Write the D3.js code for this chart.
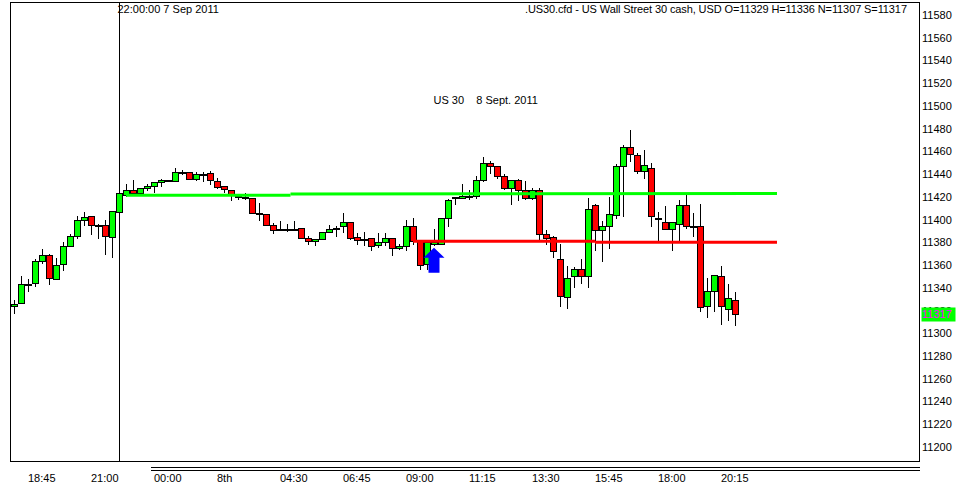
<!DOCTYPE html>
<html>
<head>
<meta charset="utf-8">
<script src="https://cdn.jsdelivr.net/npm/d3@7/dist/d3.min.js"></script>
<style>
  html, body { margin: 0; padding: 0; background: #fff; }
  svg { display: block; }
  text { font-family: "Liberation Sans", Arial, sans-serif; font-size: 11px; fill: #000; }
</style>
</head>
<body>
<svg id="chart" width="961" height="487"></svg>
<script>
// ---- Data (15-minute bars, US30, 7-8 Sep 2011) ----
const opens  = [11324,11327,11343,11344,11364,11369,11348,11361,11377,11386,11400,11403,11395,11395,11385,11407,11422,11426,11423,11428,
                11430,11433,11435,11434,11442,11442,11436,11439,11441,11434,11430,11426,11421,11420,11419,11406,11405,11395,11391,11392,
                11392,11393,11384,11381,11383,11389,11393,11394,11398,11385,11382,11384,11378,11380,11384,11375,11377,11394,11381,11361,
                11379,11379,11401,11419,11419,11421,11421,11435,11450,11447,11438,11428,11435,11426,11419,11426,11387,11385,11365,11332,
                11350,11357,11350,11413,11391,11394,11404,11447,11464,11457,11443,11445,11401,11398,11392,11396,11413,11394,11394,11324,
                11337,11350,11321,11329];
const highs  = [11329,11350,11348,11365,11374,11370,11366,11380,11387,11403,11407,11403,11396,11400,11408,11424,11431,11435,11428,11431,
                11433,11436,11435,11445,11444,11442,11442,11442,11443,11437,11430,11426,11422,11423,11419,11415,11405,11397,11399,11396,
                11399,11393,11386,11383,11389,11395,11394,11406,11398,11388,11389,11384,11388,11388,11384,11379,11400,11401,11381,11382,
                11392,11401,11418,11420,11431,11426,11438,11455,11452,11447,11440,11435,11436,11434,11428,11428,11391,11386,11379,11359,
                11358,11365,11419,11414,11399,11420,11449,11466,11479,11459,11461,11450,11407,11412,11398,11417,11422,11406,11414,11349,
                11351,11359,11343,11336];
const lows   = [11318,11327,11337,11342,11362,11343,11348,11356,11377,11384,11395,11387,11384,11370,11367,11406,11421,11422,11423,11426,
                11424,11430,11434,11434,11440,11436,11435,11434,11431,11428,11424,11417,11418,11418,11406,11400,11395,11388,11391,11390,
                11391,11384,11379,11378,11383,11389,11386,11389,11383,11379,11378,11373,11376,11378,11369,11374,11373,11379,11357,11357,
                11378,11379,11394,11414,11419,11418,11419,11434,11441,11437,11427,11414,11417,11418,11418,11382,11379,11367,11324,11322,
                11341,11344,11341,11373,11364,11375,11401,11403,11452,11441,11437,11394,11382,11392,11373,11382,11393,11386,11320,11314,
                11320,11308,11312,11307];
const closes = [11326,11343,11343,11364,11369,11349,11360,11377,11386,11400,11402,11395,11394,11386,11408,11423,11426,11423,11428,11430,
                11433,11435,11435,11442,11442,11436,11440,11440,11435,11429,11427,11422,11420,11419,11406,11405,11395,11391,11392,11392,
                11392,11384,11381,11383,11389,11392,11392,11398,11384,11382,11383,11377,11380,11384,11375,11377,11394,11381,11360,11380,
                11380,11401,11417,11420,11421,11421,11435,11450,11447,11438,11428,11435,11426,11419,11426,11387,11384,11372,11333,11349,
                11357,11350,11409,11391,11394,11405,11447,11464,11458,11443,11448,11403,11401,11392,11398,11413,11394,11394,11323,11337,
                11351,11324,11331,11317];

const timeLabels = ["18:45","21:00","00:00","8th","04:30","06:45","09:00","11:15","13:30","15:45","18:00","20:15"];
const timeBars   = [2, 11, 20, 29, 38, 47, 56, 65, 74, 83, 92, 101];

const priceTicks = [11200,11220,11240,11260,11280,11300,11320,11340,11360,11380,11400,11420,11440,11460,11480,11500,11520,11540,11560,11580];

// Drawn objects: horizontal levels (bar index start/end, price start/end)
const greenLevels = [[16, 39.5, 11421.5, 11421.5], [39.5, 109, 11422.5, 11423]];
const redLevels   = [[57, 83, 11381, 11381], [83, 109, 11380.2, 11380.2]];
const arrowBar = 60, arrowPrice = 11375.3;
const markerBar = 15;
const markerText = "22:00:00 7 Sep 2011";
const titleText = ".US30.cfd - US Wall Street 30 cash, USD O=11329 H=11336 N=11307 S=11317";
const noteText = "US 30    8 Sept. 2011";
const notePrice = 11505, noteBar = 60;

// ---- Chart ----
const svg = d3.select("#chart");
const W = 961, H = 487;
const frame = {left: 10.5, top: 2.5, right: 919.5, bottom: 461.5};

const x = d3.scaleLinear().domain([0, 103]).range([14, 735]);
const y = d3.scaleLinear().domain([11200, 11580]).range([447, 15]);

svg.append("rect").attr("width", W).attr("height", H).attr("fill", "#fff");

// frame
svg.append("rect")
  .attr("x", frame.left).attr("y", frame.top)
  .attr("width", frame.right - frame.left).attr("height", frame.bottom - frame.top)
  .attr("fill", "none").attr("stroke", "#000").attr("stroke-width", 1)
  .attr("shape-rendering", "crispEdges");

// vertical time marker
const mx = Math.round(x(markerBar)) + 0.5;
svg.append("line").attr("x1", mx).attr("x2", mx).attr("y1", frame.top).attr("y2", frame.bottom)
  .attr("stroke", "#000").attr("stroke-width", 1).attr("shape-rendering", "crispEdges");
svg.append("text").attr("x", mx - 2).attr("y", 12.5).text(markerText);

// title
svg.append("text").attr("x", 907).attr("y", 12.5).attr("text-anchor", "end")
  .attr("textLength", 382).attr("lengthAdjust", "spacing").text(titleText);

// note
svg.append("text").attr("x", x(noteBar) - 0.5).attr("y", y(notePrice) + 4).style("white-space", "pre").text(noteText);

// candles
const bars = d3.range(opens.length).map(i => ({i, o: opens[i], h: highs[i], l: lows[i], c: closes[i]}));
const g = svg.append("g").attr("shape-rendering", "crispEdges");

g.selectAll("line.wick").data(bars).join("line")
  .attr("class", "wick")
  .attr("x1", d => Math.round(x(d.i)) + 0.5).attr("x2", d => Math.round(x(d.i)) + 0.5)
  .attr("y1", d => Math.round(y(d.h))).attr("y2", d => Math.round(y(d.l)) + 1)
  .attr("stroke", "#000").attr("stroke-width", 1);

g.selectAll("rect.body").data(bars).join("rect")
  .attr("class", "body")
  .attr("x", d => Math.round(x(d.i)) - 2.5)
  .attr("width", 6)
  .attr("y", d => Math.round(y(Math.max(d.o, d.c))) + 0.5)
  .attr("height", d => Math.max(1, Math.round(y(Math.min(d.o, d.c))) - Math.round(y(Math.max(d.o, d.c)))))
  .attr("fill", d => d.c > d.o ? "#00ff00" : (d.c < d.o ? "#ff0000" : "#000"))
  .attr("stroke", "#000").attr("stroke-width", 1);

// level lines
function drawLevels(levels, color) {
  svg.append("g").selectAll("line").data(levels).join("line")
    .attr("x1", d => x(d[0])).attr("x2", d => x(d[1]))
    .attr("y1", d => y(d[2])).attr("y2", d => y(d[3]))
    .attr("stroke", color).attr("stroke-width", 3);
}
drawLevels(greenLevels, "#00ff00");
drawLevels(redLevels, "#ff0000");

// blue arrow (up)
const ax = x(arrowBar), ay = y(arrowPrice);
svg.append("path")
  .attr("d", `M${ax},${ay} L${ax + 10.5},${ay + 10} L${ax + 5.5},${ay + 10} L${ax + 5.5},${ay + 25} L${ax - 5.5},${ay + 25} L${ax - 5.5},${ay + 10} L${ax - 10.5},${ay + 10} Z`)
  .attr("fill", "#0000ff");

// price axis labels
svg.append("g").selectAll("text").data(priceTicks).join("text")
  .attr("x", 922).attr("y", d => y(d)).attr("dy", "0.36em").text(d => d);

// current price box
const last = closes[closes.length - 1];
svg.append("rect").attr("x", 921.5).attr("y", Math.round(y(last)) - 6.5).attr("width", 34).attr("height", 14)
  .attr("fill", "#00ff00");
svg.append("text").attr("x", 922).attr("y", y(last)).attr("dy", "0.36em").style("fill", "#ff00ff").text(last);

// time axis
svg.append("g").attr("shape-rendering", "crispEdges").selectAll("line").data([467.5, 470.5]).join("line")
  .attr("x1", x(timeBars[2]) - 3).attr("x2", frame.right + 0.5).attr("y1", d => d).attr("y2", d => d)
  .attr("stroke", "#000").attr("stroke-width", 1);
svg.append("g").selectAll("text").data(timeLabels).join("text")
  .attr("x", (d, k) => x(timeBars[k])).attr("y", 482).text(d => d);
</script>
</body>
</html>
